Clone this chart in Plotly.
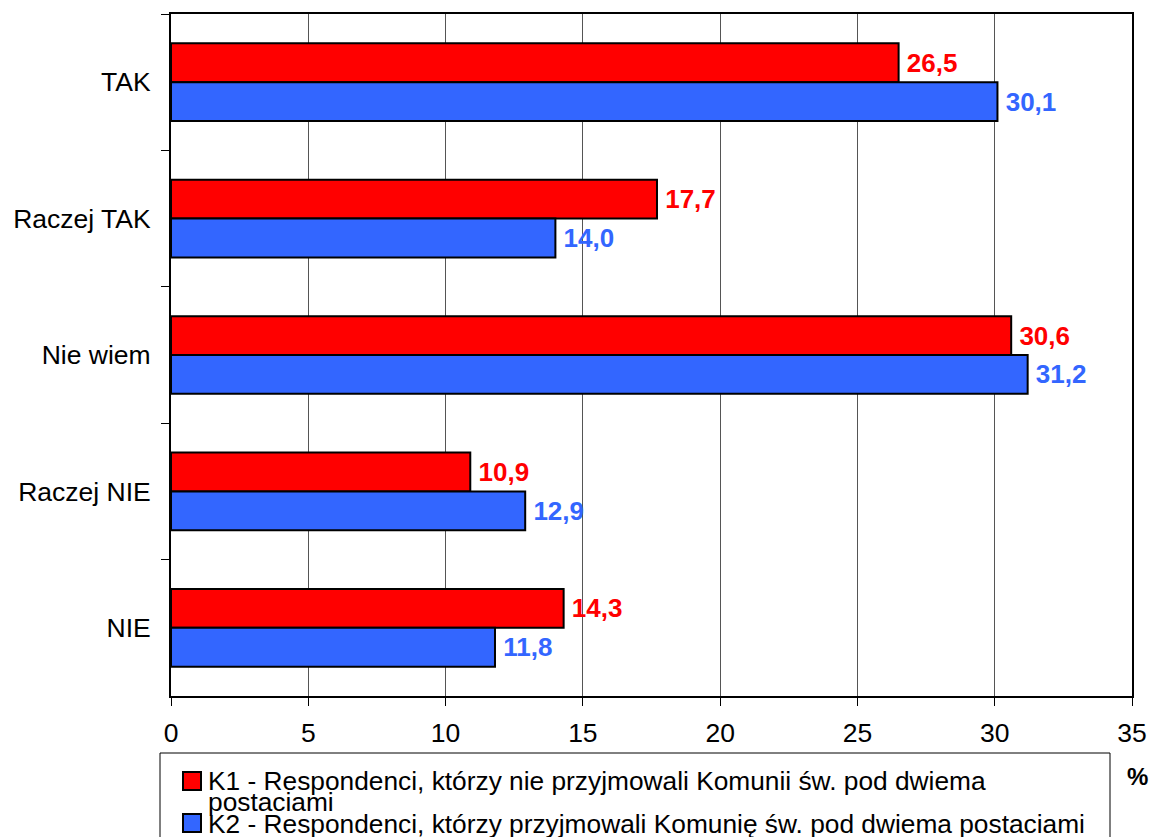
import plotly.graph_objects as go

categories = ["TAK", "Raczej TAK", "Nie wiem", "Raczej NIE", "NIE"]
k1_values = [26.5, 17.7, 30.6, 10.9, 14.3]
k2_values = [30.1, 14.0, 31.2, 12.9, 11.8]
k1_name_lines = ["K1 - Respondenci, którzy nie przyjmowali Komunii św. pod dwiema", "postaciami"]
k2_name_lines = ["K2 - Respondenci, którzy przyjmowali Komunię św. pod dwiema postaciami"]
x_ticks = [0, 5, 10, 15, 20, 25, 30, 35]

RED = "#FF0000"
BLUE = "#3366FF"
FONT = "Liberation Sans, Arial, sans-serif"
FS = 26.5

W, H = 1151, 837
L, R, T, B = 171, 19, 14, 141
PW, PH = W - L - R, H - T - B


def px(x):
    return (x - L) / PW


def py(y):
    return (H - B - y) / PH


fig = go.Figure()
fig.add_trace(go.Bar(
    y=categories, x=k1_values, orientation="h", name=" ".join(k1_name_lines),
    marker=dict(color=RED, line=dict(color="black", width=2)),
    texttemplate="\u2009%{x:.1f}", textposition="outside",
    textfont=dict(color=RED, size=26, family=FONT, weight="bold"),
    cliponaxis=False,
))
fig.add_trace(go.Bar(
    y=categories, x=k2_values, orientation="h", name=" ".join(k2_name_lines),
    marker=dict(color=BLUE, line=dict(color="black", width=2)),
    texttemplate="\u2009%{x:.1f}", textposition="outside",
    textfont=dict(color=BLUE, size=26, family=FONT, weight="bold"),
    cliponaxis=False,
))

shapes = [
    # legend box
    dict(type="rect", xref="paper", yref="paper",
         x0=px(160), x1=px(1110), y0=py(753), y1=py(850),
         line=dict(color="black", width=1), fillcolor="white", layer="above"),
    # swatches
    dict(type="rect", xref="paper", yref="paper",
         x0=px(183), x1=px(201), y0=py(772), y1=py(790),
         line=dict(color="black", width=2), fillcolor=RED, layer="above"),
    dict(type="rect", xref="paper", yref="paper",
         x0=px(183), x1=px(201), y0=py(814), y1=py(832),
         line=dict(color="black", width=2), fillcolor=BLUE, layer="above"),
]

ann_font = dict(size=26.3, family=FONT, color="black")
legend_lines = [(k1_name_lines[0], 781), (k1_name_lines[1], 802), (k2_name_lines[0], 824)]
annotations = [
    dict(text=t, x=px(206), y=py(yc), xref="paper", yref="paper",
         xanchor="left", yanchor="middle", showarrow=False, font=ann_font)
    for t, yc in legend_lines
]
annotations.append(dict(
    text="<b>%</b>", x=px(1137), y=py(777), xref="paper", yref="paper",
    xanchor="center", yanchor="middle", showarrow=False,
    font=dict(size=24, family=FONT, color="black"),
))

fig.update_layout(
    width=W, height=H,
    margin=dict(l=L, r=R, t=T, b=B, autoexpand=False),
    paper_bgcolor="white", plot_bgcolor="white",
    separators=", ",
    barmode="group", bargap=0.43, bargroupgap=0,
    font=dict(family=FONT, size=FS, color="black"),
    showlegend=False,
    xaxis=dict(
        range=[0, 35], tickvals=x_ticks, ticktext=[str(v) for v in x_ticks],
        showgrid=True, gridcolor="#555555", gridwidth=1,
        showline=True, linecolor="black", linewidth=2, mirror=True,
        ticks="outside", ticklen=8, tickcolor="black", tickwidth=1,
        ticklabelstandoff=4, zeroline=False, automargin=False,
    ),
    yaxis=dict(
        autorange="reversed", type="category",
        showgrid=False, showline=True, linecolor="black", linewidth=2, mirror=True,
        ticks="outside", ticklen=8, tickcolor="black", tickwidth=1,
        tickson="boundaries", ticklabelstandoff=13, automargin=False,
    ),
    shapes=shapes,
    annotations=annotations,
)

fig.write_html(
    "out.html",
    config={"displayModeBar": False},
    post_script="document.body.style.margin='0';",
)
